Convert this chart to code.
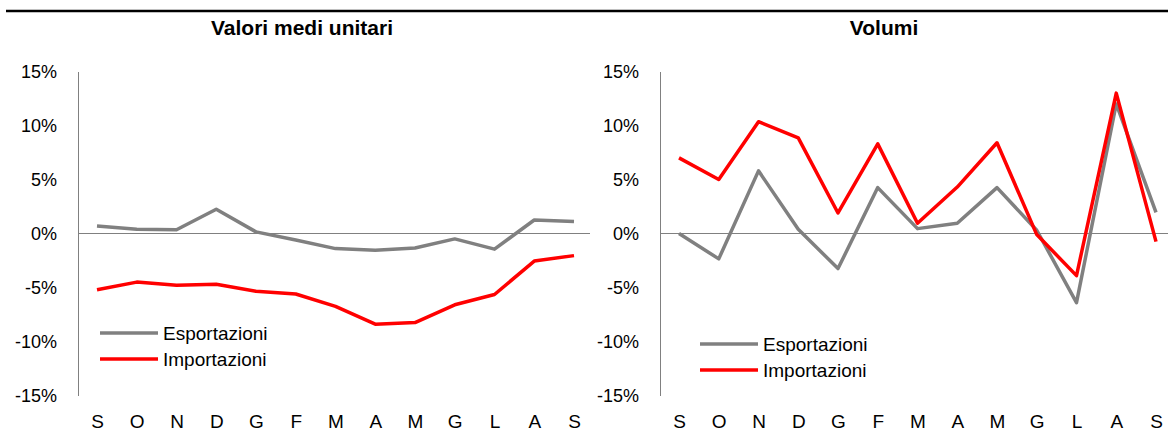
<!DOCTYPE html>
<html>
<head>
<meta charset="utf-8">
<script src="https://cdn.jsdelivr.net/npm/d3@7"></script>
<style>
  body { margin: 0; background: #fff; }
  svg { display: block; font-family: 'Liberation Sans', Arial, sans-serif; }
  .axis text { fill: #000; font-size: 18px; }
  .x-axis text { font-size: 19px; }
  .axis path { stroke: #808080; }
</style>
</head>
<body>
<div id="chart"></div>
<script>
let months = ['S', 'O', 'N', 'D', 'G', 'F', 'M', 'A', 'M', 'G', 'L', 'A', 'S']
let yTicks = [-15, -10, -5, 0, 5, 10, 15]
let seriesNames = ['Esportazioni', 'Importazioni']

// Valori medi unitari (% var.)
let valoriExp = [0.7, 0.4, 0.35, 2.25, 0.15, -0.6, -1.4, -1.55, -1.35, -0.5, -1.45, 1.25, 1.1]
let valoriImp = [-5.2, -4.5, -4.8, -4.7, -5.35, -5.6, -6.75, -8.4, -8.25, -6.6, -5.65, -2.55, -2.05]

// Volumi (% var.)
let volumiExp = [0, -2.35, 5.8, 0.4, -3.25, 4.25, 0.45, 0.95, 4.25, 0.3, -6.4, 12.0, 1.95]
let volumiImp = [7.0, 5.0, 10.35, 8.85, 1.9, 8.3, 0.95, 4.3, 8.4, -0.1, -3.9, 13.0, -0.75]

let colors = ['#808080', '#ff0000']

let width = 1168
let height = 434

let svg = d3
  .select('#chart')
  .append('svg')
  .attr('width', width)
  .attr('height', height)

// top rule
svg
  .append('line')
  .attr('x1', 6)
  .attr('x2', width)
  .attr('y1', 11)
  .attr('y2', 11)
  .attr('stroke', '#000')
  .attr('stroke-width', 2.6)

let panels = [
  { title: 'Valori medi unitari', exp: valoriExp, imp: valoriImp, dx: 0, legendX: 100, legendY: 333 },
  { title: 'Volumi', exp: volumiExp, imp: volumiImp, dx: 582, legendX: 118, legendY: 344 }
]

let xPositionScale = d3
  .scalePoint()
  .domain(d3.range(months.length))
  .range([97, 574])

let yPositionScale = d3
  .scaleLinear()
  .domain([-15, 15])
  .range([395.5, 71.5])

let line = d3
  .line()
  .x((d, i) => xPositionScale(i))
  .y(d => yPositionScale(d))

panels.forEach(p => {
  let g = svg.append('g').attr('transform', 'translate(' + p.dx + ',0)')

  g.append('text')
    .attr('x', 302)
    .attr('y', 35)
    .attr('text-anchor', 'middle')
    .attr('font-weight', 'bold')
    .attr('font-size', 21)
    .text(p.title)

  let yAxis = d3
    .axisLeft(yPositionScale)
    .tickValues(yTicks)
    .tickSize(0)
    .tickSizeOuter(0)
    .tickPadding(21)
    .tickFormat(d => d + '%')

  g.append('g')
    .attr('class', 'axis y-axis')
    .attr('transform', 'translate(78,0)')
    .call(yAxis)

  // zero line
  g.append('line')
    .attr('x1', 78)
    .attr('x2', 590)
    .attr('y1', yPositionScale(0))
    .attr('y2', yPositionScale(0))
    .attr('stroke', '#808080')
    .attr('stroke-width', 1)

  let xAxis = d3
    .axisBottom(xPositionScale)
    .tickSize(0)
    .tickPadding(0)
    .tickFormat(i => months[i])

  g.append('g')
    .attr('class', 'axis x-axis')
    .attr('transform', 'translate(0,414)')
    .call(xAxis)
    .call(s => s.select('.domain').remove())

  ;[p.exp, p.imp].forEach((values, k) => {
    g.append('path')
      .datum(values)
      .attr('fill', 'none')
      .attr('stroke', colors[k])
      .attr('stroke-width', 3.5)
      .attr('stroke-linejoin', 'round')
      .attr('d', line)
  })

  // legend
  seriesNames.forEach((name, k) => {
    let ly = p.legendY + k * 26
    g.append('line')
      .attr('x1', p.legendX)
      .attr('x2', p.legendX + 58)
      .attr('y1', ly)
      .attr('y2', ly)
      .attr('stroke', colors[k])
      .attr('stroke-width', 3.5)
    g.append('text')
      .attr('x', p.legendX + 63)
      .attr('y', ly)
      .attr('dy', '0.35em')
      .attr('font-size', 19)
      .text(name)
  })
})
</script>
</body>
</html>
